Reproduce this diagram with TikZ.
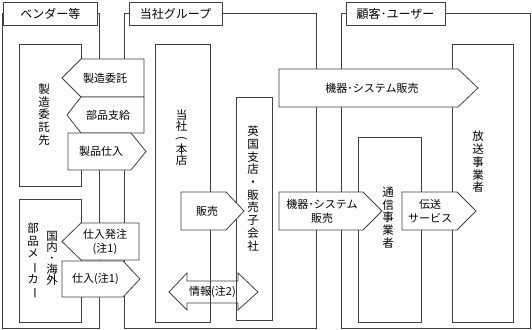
\documentclass[tikz,border=0pt]{standalone}
\usepackage{fontspec}
\usepackage{graphicx}
\setmainfont{Noto Sans CJK JP}
\newfontfamily\vertjp[RawFeature=+vert]{Noto Sans CJK JP}
\newfontfamily\horjp{Noto Sans CJK JP}
\newcommand\vchoon{{\horjp\rotatebox[origin=c]{-90}{ー}}}
\newcommand\vparen{{\horjp\rotatebox[origin=c]{-90}{(}}}

\tikzset{
  groupframe/.style={draw=black!75,line width=0.8pt},
  titlebox/.style={draw=black!75,fill=white,line width=0.8pt,inner sep=0pt,minimum height=23pt,font=\fontsize{12}{13}\selectfont},
  unitbox/.style={draw=black!75,fill=white,line width=0.8pt},
  flowbox/.style={draw=black!75,fill=white,line width=0.8pt},
  flowline/.style={draw=black!75,line width=0.8pt},
  flowtext/.style={inner sep=0pt,align=center,font=\fontsize{11}{14}\selectfont},
  vtext/.style={inner sep=0pt,align=center,font=\vertjp\fontsize{11.5}{12.7}\selectfont},
}

\begin{document}
\begin{tikzpicture}[x=1pt,y=-1pt]
\useasboundingbox (0,0) rectangle (532,329);
\draw[groupframe] (2.5,13) rectangle (99,328);
\draw[groupframe] (124,13) rectangle (316,328);
\draw[groupframe] (341,13) rectangle (530.5,328);
\node[titlebox,minimum width=93.5pt] (vendor) at (50.25,13.5) {ベンダー等};
\node[titlebox,minimum width=93pt] (group) at (175.5,13.5) {当社グループ};
\node[titlebox,minimum width=99pt] (user) at (395.5,13.5) {顧客･ユーザー};

\draw[unitbox] (19,44) rectangle (81,186);
\draw[unitbox] (19,199) rectangle (81,322);
\draw[unitbox] (155,44) rectangle (210,322);
\draw[unitbox] (236,97) rectangle (272,320);
\draw[unitbox] (358,137) rectangle (421,322);
\draw[unitbox] (452,44) rectangle (513,322);
\node[vtext] (itakusaki) at (44,114.5) {製\\造\\委\\託\\先};
\node[vtext] (maker) at (33,261) {部\\品\\メ\\\vchoon\\カ\\\vchoon};
\node[vtext,font=\vertjp\fontsize{11.5}{11}\selectfont] (kokunai) at (52,258.5) {国\\内\\･\\海\\外};
\node[vtext,font=\vertjp\fontsize{11.5}{11.3}\selectfont] (honten) at (181.5,137.5) {当\\社\\\vparen\\本\\店};
\node[vtext] (uk) at (253,188.5) {英\\国\\支\\店\\・\\販\\売\\子\\会\\社};
\node[vtext] (tsushin) at (388,217.5) {通\\信\\事\\業\\者};
\node[vtext] (hoso) at (478,162) {放\\送\\事\\業\\者};

% vendor side
\draw[flowbox] (81,59) -- (144,59) -- (144,97) -- (81,97) -- (62,78) -- cycle;
\node[flowtext] (seizo) at (105,78) {製造委託};
\draw[flowbox] (81,97) -- (144,97) -- (144,133) -- (81,133) -- (67,115) -- cycle;
\node[flowtext] (shikyu) at (108,115) {部品支給};
\draw[flowbox] (68,133) -- (131,133) -- (146,151.5) -- (131,170) -- (68,170) -- cycle;
\node[flowtext] (seihin) at (101,151.5) {製品仕入};
\draw[flowbox] (81,223) -- (139,223) -- (139,260) -- (81,260) -- (62,241.5) -- cycle;
\node[flowtext] (hatchu) at (105,242) {仕入発注\\(注1)};
\draw[flowbox] (62,261) -- (123,261) -- (140,279) -- (123,297) -- (62,297) -- cycle;
\node[flowtext] (shiire) at (95.5,279) {仕入(注1)};

% group side
\draw[flowbox] (181,192) -- (226,192) -- (244,211) -- (226,230) -- (181,230) -- cycle;
\node[flowtext] (hanbai) at (207,211) {販売};
\draw[flowline] (169,292) -- (187,273) -- (187,281) -- (238,281) -- (238,273) -- (258,292)
  -- (238,310) -- (238,303) -- (187,303) -- (187,310) -- cycle;
\node[flowtext] (joho) at (212.5,292) {情報(注2)};

% customer side
\draw[flowbox] (279,69) -- (458,69) -- (478,88) -- (458,107) -- (279,107) -- cycle;
\node[flowtext] (kiki) at (372,88) {機器･システム販売};
\draw[flowbox] (279,192) -- (363,192) -- (382,211) -- (363,230) -- (279,230) -- cycle;
\node[flowtext] (kikiuser) at (322,211) {機器･システム\\販売};
\draw[flowbox] (402,192) -- (457,192) -- (476,211) -- (457,230) -- (402,230) -- cycle;
\node[flowtext] (densou) at (430,211) {伝送\\サービス};
\end{tikzpicture}
\end{document}
